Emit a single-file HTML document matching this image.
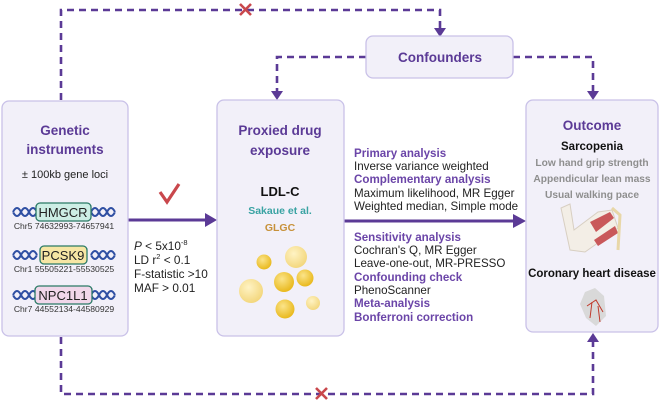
<!DOCTYPE html>
<html><head><meta charset="utf-8"><style>
html,body{margin:0;padding:0;background:#fff;}
svg{display:block;font-family:"Liberation Sans",Arial,sans-serif;}
</style></head><body>
<svg width="661" height="403" viewBox="0 0 661 403" xmlns="http://www.w3.org/2000/svg">
<defs>
<radialGradient id="g1" cx="40%" cy="35%" r="65%"><stop offset="0" stop-color="#fbe48a"/><stop offset="1" stop-color="#e9b91e"/></radialGradient>
<radialGradient id="g2" cx="40%" cy="35%" r="65%"><stop offset="0" stop-color="#fff3c4"/><stop offset="1" stop-color="#f3d77e"/></radialGradient>
</defs>
<g stroke="#5b3a96" stroke-width="2.6" fill="none" stroke-dasharray="7,5">
<path d="M61,100 V10 H440 V30"/>
<path d="M366,57 H277 V93"/>
<path d="M513,57 H593 V93"/>
<path d="M61,337 V394 H593 V340"/>
</g>
<g fill="#5b3a96">
<path d="M434,28 L446,28 L440,37 z"/>
<path d="M271,91 L283,91 L277,100 z"/>
<path d="M587,91 L599,91 L593,100 z"/>
<path d="M587,342 L599,342 L593,333 z"/>
</g>
<g stroke="#c9474c" stroke-width="2.6"><path d="M240,4 L251,15 M251,4 L240,15"/><path d="M316,388 L327,399 M327,388 L316,399"/></g>
<path d="M128,220 H207" stroke="#5b3a96" stroke-width="3"/><path d="M205,213 L217,220 L205,227 z" fill="#5b3a96"/>
<path d="M344,221 H515" stroke="#5b3a96" stroke-width="3"/><path d="M513,214 L526,221 L513,228 z" fill="#5b3a96"/>
<path d="M160,192 L167,202 L179,184" stroke="#c9474c" stroke-width="3.2" fill="none" stroke-linejoin="miter"/>
<g fill="#f2f0f9" stroke="#c9c1e8" stroke-width="1.3">
<rect x="2" y="101" width="126" height="235" rx="7"/>
<rect x="217" y="100" width="127" height="236" rx="7"/>
<rect x="526" y="100" width="132" height="232" rx="7"/>
<rect x="366" y="36" width="147" height="42" rx="7"/>
</g>
<text x="440" y="62" text-anchor="middle" font-size="13.5" font-weight="bold" fill="#5b3a96">Confounders</text>
<g text-anchor="middle" font-weight="bold" fill="#5b3a96" font-size="13.5">
<text x="65" y="135">Genetic</text><text x="65" y="154">instruments</text></g>
<text x="65" y="178" text-anchor="middle" font-size="11" fill="#222">± 100kb gene loci</text>
<g font-size="8.6" fill="#333" text-anchor="middle">
<text x="64" y="229">Chr5  74632993-74657941</text>
<text x="64" y="272">Chr1  55505221-55530525</text>
<text x="64" y="312">Chr7 44552134-44580929</text></g>
<g stroke="#2f4fa3" stroke-width="2" fill="none">
<path d="M13,212 q4,-8 8,0 t8,0 t8,0 M13,212 q4,8 8,0 t8,0 t8,0"/>
<path d="M91,212 q4,-8 8,0 t8,0 t8,0 M91,212 q4,8 8,0 t8,0 t8,0"/>
<path d="M13,255 q4,-8 8,0 t8,0 t8,0 M13,255 q4,8 8,0 t8,0 t8,0"/>
<path d="M91,255 q4,-8 8,0 t8,0 t8,0 M91,255 q4,8 8,0 t8,0 t8,0"/>
<path d="M13,295 q4,-8 8,0 t8,0 t8,0 M13,295 q4,8 8,0 t8,0 t8,0"/>
<path d="M91,295 q4,-8 8,0 t8,0 t8,0 M91,295 q4,8 8,0 t8,0 t8,0"/></g>
<rect x="36" y="203" width="55" height="18" rx="4" fill="#cdeee5" stroke="#2b7a66" stroke-width="1.3"/>
<rect x="40" y="246" width="47" height="18" rx="4" fill="#f6e6a4" stroke="#2b7a66" stroke-width="1.3"/>
<rect x="35" y="286" width="57" height="18" rx="4" fill="#f1d7ea" stroke="#2b7a66" stroke-width="1.3"/>
<g font-size="13" text-anchor="middle" fill="#222">
<text x="63" y="217">HMGCR</text><text x="63" y="260">PCSK9</text><text x="63" y="300">NPC1L1</text></g>
<g font-size="11.8" fill="#222">
<text x="134" y="250"><tspan font-style="italic">P</tspan> &lt; 5x10<tspan font-size="7.5" dy="-5">-8</tspan></text>
<text x="134" y="264">LD r<tspan font-size="7.5" dy="-5">2</tspan><tspan dy="5"> &lt; 0.1</tspan></text>
<text x="134" y="278">F-statistic &gt;10</text>
<text x="134" y="292">MAF &gt; 0.01</text></g>
<g text-anchor="middle" font-weight="bold" font-size="13.5" fill="#5b3a96">
<text x="280" y="135">Proxied drug</text><text x="280" y="155">exposure</text></g>
<text x="280" y="196" text-anchor="middle" font-weight="bold" font-size="13" fill="#111">LDL-C</text>
<text x="280" y="214" text-anchor="middle" font-weight="bold" font-size="10.5" fill="#3aa3a3">Sakaue et al.</text>
<text x="280" y="231" text-anchor="middle" font-weight="bold" font-size="10.5" fill="#c7913a">GLGC</text>
<circle cx="264" cy="262" r="7.5" fill="url(#g1)"/>
<circle cx="296" cy="257" r="11" fill="url(#g2)"/>
<circle cx="284" cy="282" r="10" fill="url(#g1)"/>
<circle cx="305" cy="278" r="8.5" fill="url(#g1)"/>
<circle cx="251" cy="291" r="12" fill="url(#g2)"/>
<circle cx="285" cy="309" r="9.5" fill="url(#g1)"/>
<circle cx="313" cy="303" r="7" fill="url(#g2)"/>
<g font-size="11.6">
<text x="354" y="157" fill="#6b45a8" font-weight="bold">Primary analysis</text>
<text x="354" y="170" fill="#222">Inverse variance weighted</text>
<text x="354" y="183" fill="#6b45a8" font-weight="bold">Complementary analysis</text>
<text x="354" y="197" fill="#222">Maximum likelihood, MR Egger</text>
<text x="354" y="210" fill="#222">Weighted median, Simple mode</text>
<text x="354" y="241" fill="#6b45a8" font-weight="bold">Sensitivity analysis</text>
<text x="354" y="254" fill="#222">Cochran's Q, MR Egger</text>
<text x="354" y="267" fill="#222">Leave-one-out, MR-PRESSO</text>
<text x="354" y="281" fill="#6b45a8" font-weight="bold">Confounding check</text>
<text x="354" y="294" fill="#222">PhenoScanner</text>
<text x="354" y="307" fill="#6b45a8" font-weight="bold">Meta-analysis</text>
<text x="354" y="321" fill="#6b45a8" font-weight="bold">Bonferroni correction</text></g>
<text x="592" y="130" text-anchor="middle" font-weight="bold" font-size="13.5" fill="#5b3a96">Outcome</text>
<text x="592" y="150" text-anchor="middle" font-weight="bold" font-size="11.5" fill="#111">Sarcopenia</text>
<g text-anchor="middle" font-weight="bold" font-size="10.2" fill="#8e8e8e">
<text x="592" y="166">Low hand grip strength</text>
<text x="592" y="182">Appendicular lean mass</text>
<text x="592" y="198">Usual walking pace</text></g>
<path d="M561,208 L570,204 L574,230 L598,212 L612,210 L618,228 L602,240 L585,252 L570,250 Z" fill="#f3eee6" stroke="#d8cfc2" stroke-width="1"/>
<path d="M590,222 L610,212 L614,218 L596,232 Z" fill="#c9585a"/>
<path d="M594,240 L615,226 L618,233 L598,246 Z" fill="#c9585a"/>
<path d="M612,208 L620,215 L618,250" stroke="#e8d7a8" stroke-width="3" fill="none"/>
<text x="592" y="277" text-anchor="middle" font-weight="bold" font-size="11.5" fill="#111">Coronary heart disease</text>
<path d="M585,292 L595,288 L604,296 L606,316 L596,326 L586,318 L580,304 Z" fill="#d9d9d9"/>
<path d="M587,306 L596,300 L603,312 M592,302 L590,318 M598,306 L600,322" stroke="#c0392b" stroke-width="1" fill="none"/>
</svg>
</body></html>
